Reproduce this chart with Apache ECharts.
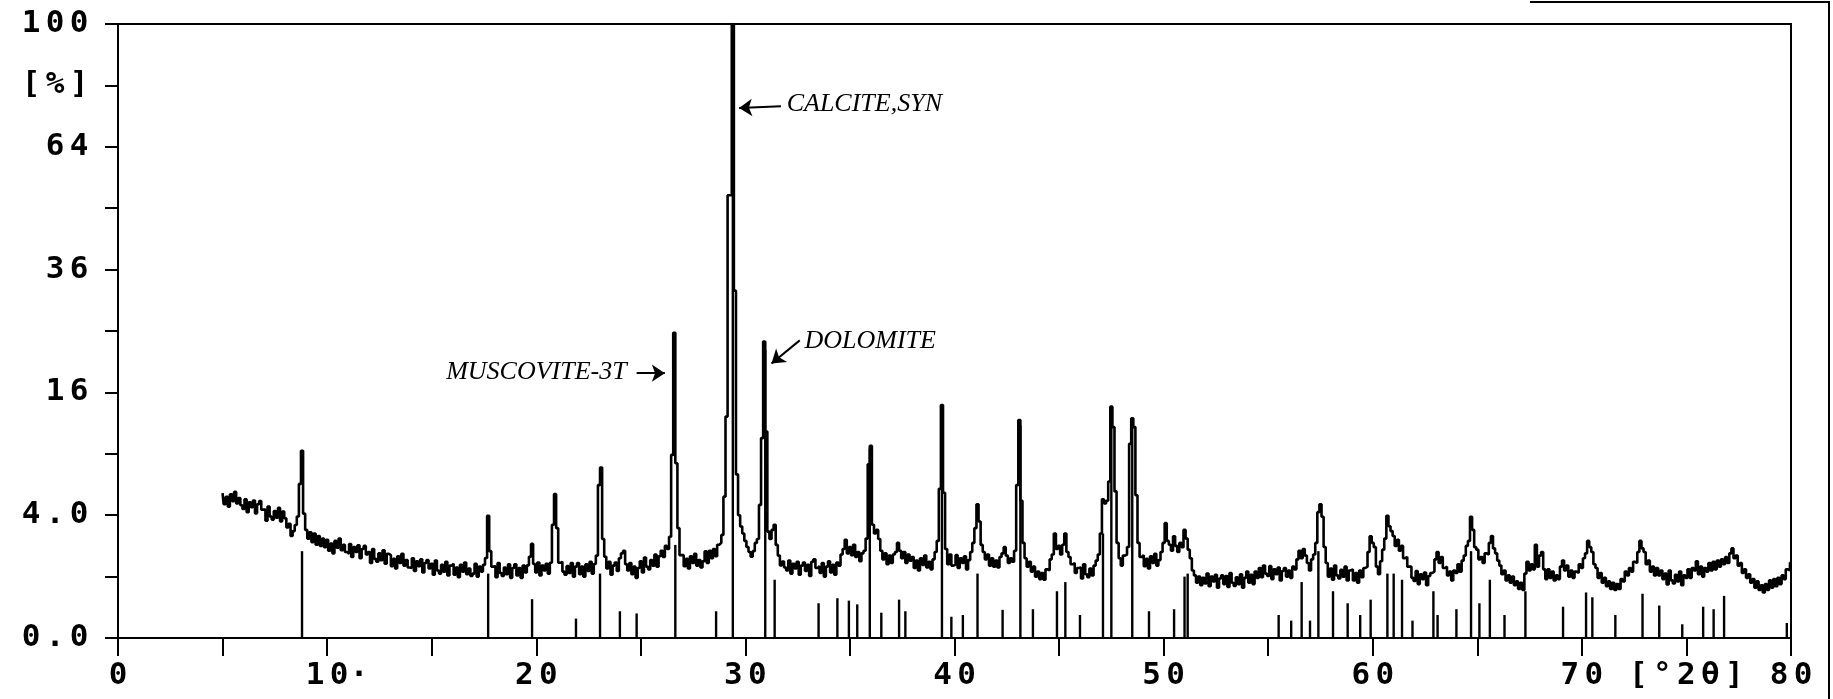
<!DOCTYPE html>
<html><head><meta charset="utf-8">
<script src="https://cdn.jsdelivr.net/npm/echarts/dist/echarts.min.js"></script>
<style>html,body{margin:0;padding:0;background:#fff;}#chart{width:1833px;height:699px;}</style>
</head><body><div id="chart"></div>
<script>
// XRD scan: 2-theta from scanStart in steps of scanStep, intensity in %
const scanStart = 5.0;
const scanStep = 0.1;
const intensity = [
5.57,4.75,5.29,4.58,5.48,4.97,5.66,4.80,5.20,4.67,
4.41,5.11,4.20,4.88,4.54,5.02,4.12,4.75,4.97,4.37,
4.37,3.65,4.58,3.92,3.72,4.28,3.84,4.49,3.61,4.24,
3.80,3.24,3.46,2.76,3.03,3.39,3.92,6.3,9.3,4.1,
3.1,2.62,2.96,2.43,2.89,2.31,2.76,2.25,2.62,2.19,
2.56,2.02,2.37,1.90,2.50,2.16,2.62,2.04,2.31,1.96,
1.88,2.34,1.74,2.19,1.96,2.28,1.69,2.10,2.25,1.85,
1.96,1.49,2.10,1.66,1.54,1.90,1.61,2.04,1.46,1.88,
1.82,1.37,1.66,1.28,1.77,1.49,1.88,1.39,1.61,1.32,
1.30,1.69,1.19,1.56,1.37,1.64,1.14,1.49,1.61,1.28,
1.46,1.06,1.59,1.21,1.10,1.42,1.17,1.54,1.04,1.39,
1.46,1.06,1.32,0.98,1.42,1.17,1.51,1.08,1.28,1.02,
1.10,1.46,1.00,1.35,1.17,1.42,1.7,3.96,2.0,1.35,
1.37,0.98,1.49,1.12,1.02,1.32,1.08,1.44,0.96,1.30,
1.44,1.04,1.30,0.96,1.39,1.14,1.40,1.75,2.35,1.45,
1.14,1.51,1.04,1.39,1.21,1.46,1.10,1.50,3.4,5.5,
3.2,1.5,1.54,1.17,1.06,1.37,1.12,1.49,1.00,1.35,
1.49,1.08,1.35,1.00,1.44,1.19,1.54,1.10,1.45,1.8,
6.2,7.7,2.6,1.75,1.28,1.54,1.06,1.39,1.51,1.19,
1.69,1.90,2.02,1.44,1.21,1.49,1.08,1.35,0.96,1.30,
1.56,1.14,1.72,1.35,1.25,1.61,1.39,1.85,1.35,1.77,
2.02,1.74,2.25,2.10,2.72,8.9,24.7,8.1,3.2,1.82,
1.82,1.37,1.66,1.28,1.77,1.49,1.88,1.39,1.61,1.32,
1.56,1.99,1.49,2.02,1.69,2.10,1.77,2.31,2.40,2.82,
5.3,13,52,52,100,32,7.1,4.0,3.3,2.9,
2.5,2.2,1.96,1.75,2.0,2.4,2.6,4.7,10.6,23.3,
11.3,3.0,2.6,3.1,3.4,2.3,1.8,1.4,1.55,1.32,
1.21,1.59,1.10,1.46,1.28,1.54,1.06,1.39,1.51,1.19,
1.42,1.02,1.54,1.64,1.30,1.37,1.12,1.49,1.00,1.35,
1.56,1.14,1.42,1.06,1.51,1.39,1.85,2.10,2.56,1.90,
2.19,1.82,2.31,1.74,1.96,1.56,1.90,2.02,2.62,8.0,
9.8,3.4,2.9,3.1,2.6,2.02,1.64,1.90,1.44,1.80,
1.49,1.85,1.96,2.40,2.02,1.69,1.96,1.49,1.85,1.59,
1.74,1.30,1.59,1.21,1.69,1.42,1.80,1.32,1.54,1.25,
1.64,1.96,2.5,5.9,14.4,5.6,2.1,1.44,1.85,1.39,
1.42,1.82,1.30,1.69,1.49,1.77,1.25,1.61,1.96,2.40,
3.2,4.75,3.6,2.3,1.96,1.64,1.85,1.39,1.69,1.35,
1.59,1.32,1.74,1.90,2.19,1.80,1.49,1.69,1.54,2.02,
6.2,12.6,5.0,2.4,1.69,1.35,1.54,1.17,1.35,1.00,
1.17,0.92,1.12,0.90,1.25,1.21,1.64,1.85,2.89,2.10,
2.25,1.85,2.31,2.89,1.96,1.74,1.44,1.49,1.12,1.30,
1.32,0.94,1.44,1.08,0.98,1.28,1.04,1.39,1.59,1.85,
2.9,5.1,4.8,5.0,6.5,14.2,11.8,5.7,2.4,1.69,
1.39,1.80,1.85,2.2,10.0,12.8,11.8,5.4,2.4,1.74,
1.82,1.37,1.66,1.28,1.77,1.49,1.88,1.39,1.61,1.96,
2.40,3.5,2.50,2.31,2.02,2.75,2.25,1.96,2.40,2.19,
3.1,2.62,2.07,1.69,1.21,1.04,0.81,1.0,0.74,0.96,
0.79,1.10,0.71,1.00,0.85,1.06,0.67,0.94,1.04,0.77,
1.02,0.69,1.12,0.81,0.72,0.98,0.77,1.08,0.67,0.96,
1.17,0.81,1.06,0.77,1.17,0.96,1.30,0.98,1.39,1.10,
1.02,1.37,0.92,1.25,1.08,1.32,0.88,1.19,1.30,1.00,
1.21,0.96,1.35,1.25,1.64,2.02,1.69,2.10,1.80,1.49,
1.21,1.64,1.85,2.4,4.2,4.75,3.9,2.2,1.49,1.0,
1.28,0.90,1.39,1.04,0.94,1.23,1.00,1.35,0.88,1.21,
1.25,0.88,1.12,0.81,1.21,0.98,1.30,1.35,1.96,2.75,
2.40,2.19,1.35,1.08,1.56,2.07,2.62,3.96,3.31,3.03,
2.76,2.25,2.56,2.02,2.25,1.69,1.74,1.35,1.35,0.96,
0.86,1.19,0.77,1.08,0.92,1.14,0.74,1.02,1.12,1.17,
1.64,1.96,1.49,1.74,1.30,1.35,1.04,1.17,0.88,1.21,
1.12,1.44,1.17,1.59,1.80,2.25,2.50,3.9,3.10,2.19,
2.07,1.64,1.74,1.49,1.90,1.85,2.40,2.76,2.13,1.90,
1.59,1.39,1.08,1.21,0.88,1.04,0.81,1.0,0.74,0.85,
0.64,0.81,0.61,1.10,1.54,1.21,1.44,1.25,2.31,1.35,
1.80,1.96,1.25,0.92,1.25,0.96,1.17,0.88,1.04,0.92,
1.35,1.59,1.21,1.39,1.0,1.21,0.96,1.17,1.12,1.44,
1.30,1.69,1.90,2.50,2.19,1.96,1.44,1.30,0.96,1.12,
0.81,0.96,0.71,0.85,0.64,0.81,0.61,0.77,0.64,0.92,
0.85,1.17,1.04,1.30,1.17,1.54,1.49,1.96,2.50,2.13,
1.96,1.44,1.59,1.17,1.35,1.04,1.30,1.04,1.21,0.92,
1.10,0.76,1.21,0.88,0.79,1.06,0.85,1.17,0.74,1.04,
0.96,1.25,0.96,1.30,1.21,1.56,1.08,1.35,1.0,1.30,
1.17,1.49,1.21,1.54,1.25,1.59,1.35,1.64,1.44,1.74,
1.49,1.90,2.13,1.69,1.80,1.39,1.49,1.12,1.25,0.96,
1.08,0.81,0.92,0.67,0.85,0.61,0.74,0.55,0.77,0.61,
0.88,0.67,0.92,0.71,0.96,0.77,1.04,0.92,1.25,1.21,
1.5
];

// Reference pattern sticks: position (deg 2-theta) and intensity (%)
const stickPos = [8.8,17.7,19.8,21.9,23.05,24.0,24.8,26.65,28.6,29.4,30.95,31.4,33.5,34.4,34.95,35.35,35.95,36.5,37.35,37.65,39.4,39.85,40.4,41.1,42.3,43.15,43.75,44.9,45.3,46.0,47.1,47.5,48.5,49.3,50.5,51.0,51.15,55.5,56.1,56.6,57.0,57.4,58.1,58.8,59.4,59.9,60.7,61.0,61.4,61.9,62.9,63.1,64.0,64.7,65.1,65.6,66.3,67.3,69.1,70.2,70.5,71.6,72.9,73.7,74.8,75.8,76.3,76.8,79.8];
const stickInt = [2.0,1.1,0.4,0.1,1.1,0.19,0.16,2.3,0.19,100,22,0.9,0.32,0.42,0.37,0.3,9.5,0.17,0.39,0.19,14,0.12,0.14,1.1,0.21,12,0.22,0.58,0.83,0.14,2.9,14,12.5,0.19,0.22,1.0,1.1,0.14,0.08,0.83,0.08,2.0,0.58,0.32,0.14,0.39,1.1,1.1,0.9,0.08,0.58,0.14,0.22,2.0,0.32,0.9,0.14,0.58,0.26,0.55,0.44,0.14,0.52,0.28,0.05,0.26,0.22,0.47,0.06];

// Axis tick labels
const xTickValues = [0,10,20,30,40,50,60,70,75,80];
const xTickLabels = ['0','10·','20','30','40','50','60','70','[°2θ]','80'];
const yTickValues = [0,4,16,36,64,81,100];
const yTickLabels = ['0.0','4.0','16','36','64','[%]','100'];

// Phase annotations
const annotations = ['CALCITE,SYN','DOLOMITE','MUSCOVITE-3T'];

// ---- build ----
const toAxis = v => Math.sqrt(v); // square-root intensity scale
const trace = intensity.map((v, i) => [+(scanStart + i * scanStep).toFixed(2), toAxis(v)]);
const sticks = stickPos.map((x, i) => [x, toAxis(stickInt[i])]);

const charStyle = {width: 24, align: 'center', fontFamily: 'DejaVu Sans Mono', fontWeight: 'bold', fontSize: 31, color: '#000', lineHeight: 32};
function spaced(str) {
  let out = '';
  for (const ch of str) {
    if (ch === '·') out += '{d|·}';
    else out += '{c|' + ch + '}';
  }
  if (str.indexOf('·') >= 0) out = '{s| }' + out;
  return out;
}
const rich = {
  c: charStyle,
  d: Object.assign({}, charStyle, {width: 16}),
  s: Object.assign({}, charStyle, {width: 16})
};

const annFont = {fontFamily: 'Liberation Serif', fontStyle: 'italic', fontSize: 26, color: '#000'};

const chart = echarts.init(document.getElementById('chart'), null, {renderer: 'canvas'});
chart.setOption({
  animation: false,
  backgroundColor: '#fff',
  grid: {left: 118, right: 42, top: 24, bottom: 61, show: true, borderColor: '#000', borderWidth: 2, backgroundColor: 'transparent', outerBoundsMode: 'none', containLabel: false},
  xAxis: {
    type: 'value', min: 0, max: 80, interval: 5,
    axisLine: {show: true, onZero: false, lineStyle: {color: '#000', width: 2}},
    axisTick: {show: true, inside: false, length: 18, lineStyle: {color: '#000', width: 2}},
    splitLine: {show: false},
    axisLabel: {
      margin: 22, showMinLabel: true, showMaxLabel: true,
      formatter: v => { const k = xTickValues.indexOf(Math.round(v)); return k >= 0 ? spaced(xTickLabels[k]) : ''; },
      rich: rich
    }
  },
  yAxis: {
    type: 'value', min: 0, max: 10, interval: 1,
    axisLine: {show: true, onZero: false, lineStyle: {color: '#000', width: 2}},
    axisTick: {show: true, inside: false, length: 13, lineStyle: {color: '#000', width: 2}},
    splitLine: {show: false},
    axisLabel: {
      margin: 27, showMinLabel: true, showMaxLabel: true,
      formatter: v => { const k = yTickValues.indexOf(Math.round(v * v)); return k >= 0 ? spaced(yTickLabels[k]) : ''; },
      rich: rich
    }
  },
  series: [
    {
      type: 'custom', name: 'reference', clip: true,
      renderItem: (params, api) => {
        const p0 = api.coord([api.value(0), 0]);
        const p1 = api.coord([api.value(0), api.value(1)]);
        return {type: 'line', shape: {x1: p0[0], y1: p0[1], x2: p1[0], y2: p1[1]}, style: {stroke: '#000', lineWidth: 2.4}};
      },
      encode: {x: 0, y: 1},
      data: sticks, silent: true, z: 2
    },
    {
      type: 'line', name: 'scan', data: trace, step: 'middle', showSymbol: false, symbol: 'none',
      lineStyle: {color: '#000', width: 2.6}, silent: true, z: 3,
      markLine: {
        silent: true, animation: false, symbolSize: 13,
        label: {show: false},
        lineStyle: {color: '#000', width: 2, type: 'solid'},
        emphasis: {disabled: true},
        data: [
          [{coord: [31.7, toAxis(75)], symbol: 'none'}, {coord: [29.7, toAxis(74.5)], symbol: 'arrow'}],
          [{coord: [32.6, toAxis(23.5)], symbol: 'none'}, {coord: [31.25, toAxis(20)], symbol: 'arrow'}],
          [{coord: [24.8, toAxis(18.6)], symbol: 'none'}, {coord: [26.15, toAxis(18.6)], symbol: 'arrow'}]
        ]
      },
      markPoint: {
        silent: true, animation: false, symbol: 'rect', symbolSize: 1,
        itemStyle: {color: 'rgba(0,0,0,0)'},
        data: [
          {coord: [31.95, toAxis(75.5)], label: Object.assign({show: true, position: 'right', distance: 0, formatter: annotations[0]}, annFont)},
          {coord: [32.8, toAxis(23.3)], label: Object.assign({show: true, position: 'right', distance: 0, formatter: annotations[1]}, annFont)},
          {coord: [24.35, toAxis(18.8)], label: Object.assign({show: true, position: 'left', distance: 0, formatter: annotations[2]}, annFont)}
        ]
      }
    }
  ],
  graphic: [
    {type: 'polyline', silent: true, shape: {points: [[1530, 2], [1829, 2], [1829, 699]]}, style: {stroke: '#000', lineWidth: 2, fill: null}}
  ]
});
</script>
</body></html>
